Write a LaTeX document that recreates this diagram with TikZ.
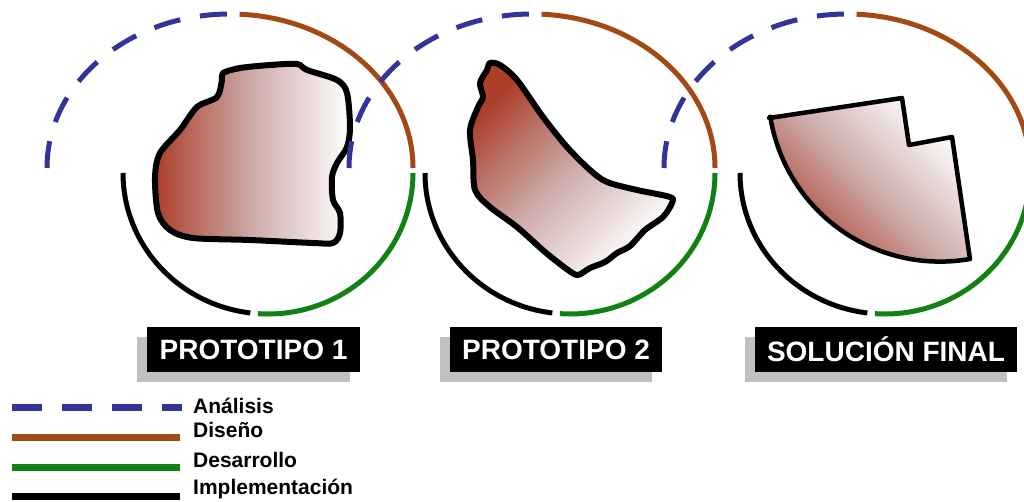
\documentclass[tikz,border=0pt]{standalone}
\usepackage{fontspec}
\setmainfont{Liberation Sans}
\usetikzlibrary{shadows}

\definecolor{azul}{RGB}{51,51,153}
\definecolor{cafe}{RGB}{163,73,20}
\definecolor{verde}{RGB}{18,128,18}
\definecolor{rojizo}{RGB}{172,62,42}
\definecolor{malva}{RGB}{205,172,170}
\definecolor{sombra}{RGB}{192,192,192}

\tikzset{
  analisis/.style={draw=azul, line width=5, dash pattern=on 27pt off 20pt},
  diseno/.style={draw=cafe, line width=5},
  desarrollo/.style={draw=verde, line width=5},
  implementacion/.style={draw=black, line width=5},
  contorno/.style={draw=black, line width=6, line join=round},
  etiqueta/.style={fill=black, text=white, inner sep=0, minimum height=45,
    font=\bfseries\fontsize{28}{30}\selectfont,
    drop shadow={shadow xshift=-10pt, shadow yshift=-10pt, fill=sombra, opacity=1}},
  leyenda/.style={anchor=base west, inner sep=0, font=\bfseries\fontsize{21}{24}\selectfont}
}

\begin{document}
\begin{tikzpicture}[x=1pt, y=-1pt]
  \path[use as bounding box, clip] (0,0) rectangle (1024,502);

  % Prototipo 1
  \draw[contorno, left color=rojizo, right color=white, middle color=malva]
    plot[smooth cycle, tension=0.5] coordinates {(223,73) (240,68) (270,65) (297,64) (307,70)
      (337,80) (347,93) (350,127) (347,147) (337,163) (332,177) (333,200) (340,213)
      (340,233) (333,243) (313,243) (250,240) (193,238) (170,230) (158,213) (155,177)
      (160,153) (180,130) (197,107) (217,97) (222,80)};

  % Prototipo 2
  \draw[contorno, top color=rojizo, bottom color=white, middle color=malva, shading angle=45]
    plot[smooth cycle, tension=0.5] coordinates {(490,63) (500,65) (517,80) (543,117) (567,147)
      (590,170) (607,182) (637,190) (670,197) (672,203) (663,217) (645,230) (630,246)
      (617,253) (605,262) (590,268) (578,275) (568,270) (545,252) (517,227) (490,207)
      (475,190) (473,160) (470,130) (478,107) (483,97) (480,83) (487,70)};

  % Solucion final
  \draw[contorno, line width=4.5, top color=white, bottom color=rojizo, middle color=malva, shading angle=-45]
    (769,118) -- (902,98) -- (909,145) -- (952,137) -- (970,259)
    arc[start angle=80, end angle=171, radius=172] -- cycle;

  % Ciclos: elipse de arriba (analisis, diseno), arco de abajo (implementacion, desarrollo)
  \foreach \dx in {0,302,617} {
    \coordinate (arriba) at (230+\dx,168);
    \coordinate (abajo) at (268+\dx,173);
    \draw[analisis] (arriba) ++(269:183 and 154) arc[start angle=269, end angle=180, x radius=183, y radius=154];
    \draw[diseno] (arriba) ++(273:183 and 154) arc[start angle=273, end angle=360, x radius=183, y radius=154];
    \draw[implementacion] (abajo) ++(180:145 and 141) arc[start angle=180, end angle=97, x radius=145, y radius=141];
    \draw[desarrollo] (abajo) ++(94:145 and 141) arc[start angle=94, end angle=0, x radius=145, y radius=141];
  }

  % Etiquetas
  \node[etiqueta, minimum width=213] (proto1) at (253.5,349.5) {PROTOTIPO 1};
  \node[etiqueta, minimum width=212] (proto2) at (556,349.5) {PROTOTIPO 2};
  \node[etiqueta, minimum width=262] (final) at (886,349.5) {SOLUCIÓN FINAL};

  % Leyenda
  \node[leyenda] (tanalisis) at (193,413) {Análisis};
  \node[leyenda] (tdiseno) at (193,437) {Diseño};
  \node[leyenda] (tdesarrollo) at (193,467) {Desarrollo};
  \node[leyenda] (timplementacion) at (193,494) {Implementación};
  \draw[analisis, line width=7, dash pattern=on 30pt off 20pt] (12,407) -- (182,407);
  \draw[diseno, line width=7] (12,437) -- (180,437);
  \draw[desarrollo, line width=7] (12,467) -- (180,467);
  \draw[implementacion, line width=7] (12,496) -- (180,496);
\end{tikzpicture}
\end{document}
